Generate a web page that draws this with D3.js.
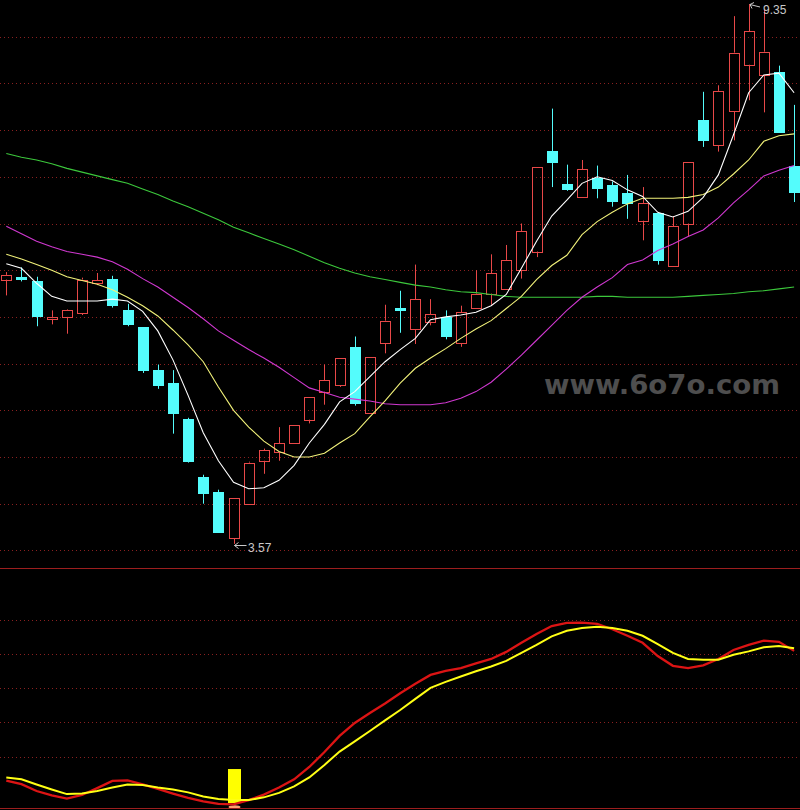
<!DOCTYPE html>
<html><head><meta charset="utf-8">
<script src="https://cdn.jsdelivr.net/npm/d3@7/dist/d3.min.js"></script>
<style>html,body{margin:0;padding:0;background:#000;overflow:hidden}</style>
</head><body><svg id="c" width="800" height="810"></svg>
<script>
// ---- data ----
const days = d3.range(53);
const open  = [6.40,6.43,6.38,5.98,6.00,6.04,6.36,6.41,6.07,5.89, 5.43,5.29,4.91,4.29,4.12,3.63,4.00,4.46,4.55,4.65, 4.90,5.20,5.27,5.68,4.97,5.72,6.09,5.87,5.95,6.00, 5.72,6.09,6.25,6.30,6.50,6.70,7.78,7.42,7.28,7.49, 7.41,7.33,7.03,7.11,6.54,7.00,8.11,7.84,8.20,8.70, 8.59,8.62,7.62];
const high  = [6.48,6.53,6.43,6.07,6.08,6.42,6.47,6.44,6.14,5.89, 5.49,5.43,4.92,4.31,4.15,4.06,4.45,4.59,4.82,4.84, 5.14,5.49,5.56,5.79,5.57,6.13,6.28,6.56,6.19,6.07, 6.12,6.50,6.67,6.77,7.00,7.61,8.23,7.63,7.68,7.62, 7.45,7.52,7.39,7.11,7.08,7.66,8.41,8.48,9.22,9.35, 9.29,8.69,8.27];
const low   = [6.23,6.38,5.90,5.92,5.82,6.02,6.34,6.10,5.90,5.40, 5.23,4.75,4.44,4.00,3.69,3.57,4.00,4.32,4.46,4.65, 4.86,5.06,5.25,5.05,4.97,5.61,5.83,5.71,5.91,5.76, 5.68,6.09,6.13,6.30,6.41,6.64,7.39,7.35,7.28,7.27, 7.18,7.05,6.82,6.56,6.54,6.86,7.82,7.77,7.89,8.32, 8.19,7.97,7.23];
const close = [6.45,6.39,6.00,6.00,6.07,6.40,6.39,6.12,5.91,5.42, 5.26,4.96,4.45,4.10,3.69,4.06,4.44,4.57,4.65,4.84, 5.14,5.32,5.56,5.07,5.57,5.96,6.06,6.19,6.03,5.79, 6.05,6.25,6.47,6.61,6.92,7.61,7.65,7.36,7.58,7.37, 7.23,7.21,7.22,6.60,6.97,7.66,7.88,8.42,8.83,9.06, 8.84,7.97,7.33];
const ma5   = [6.57,6.52,6.36,6.22,6.17,6.17,6.17,6.19,6.17,6.06, 5.85,5.54,5.16,4.76,4.46,4.23,4.16,4.17,4.25,4.41, 4.65,4.85,5.09,5.20,5.36,5.52,5.65,5.77,5.97,6.00, 6.02,6.05,6.12,6.24,6.52,6.81,7.08,7.25,7.43,7.50, 7.46,7.36,7.29,7.12,7.07,7.13,7.28,7.52,7.95,8.40, 8.59,8.61,8.40];
const ma10  = [6.67,6.62,6.56,6.50,6.43,6.39,6.35,6.29,6.21,6.12, 6.01,5.86,5.70,5.52,5.25,5.00,4.82,4.67,4.56,4.50, 4.50,4.54,4.65,4.75,4.93,5.10,5.29,5.45,5.56,5.66, 5.77,5.87,5.96,6.09,6.22,6.40,6.55,6.66,6.88,7.02, 7.12,7.21,7.27,7.27,7.27,7.28,7.31,7.39,7.53,7.68, 7.88,7.94,7.96];
const ma20  = [6.97,6.89,6.81,6.75,6.70,6.67,6.64,6.59,6.51,6.41, 6.32,6.21,6.10,5.98,5.85,5.75,5.65,5.56,5.46,5.35, 5.24,5.19,5.14,5.12,5.10,5.07,5.06,5.06,5.06,5.08, 5.13,5.20,5.30,5.44,5.59,5.75,5.91,6.07,6.21,6.32, 6.42,6.56,6.61,6.71,6.78,6.86,6.93,7.06,7.22,7.36, 7.51,7.57,7.62];
const ma60  = [7.75,7.71,7.68,7.64,7.59,7.55,7.51,7.47,7.43,7.37, 7.31,7.24,7.18,7.11,7.04,6.96,6.90,6.84,6.78,6.72, 6.65,6.58,6.52,6.47,6.43,6.40,6.37,6.34,6.32,6.29, 6.27,6.26,6.24,6.22,6.21,6.21,6.21,6.21,6.21,6.22, 6.22,6.21,6.21,6.21,6.21,6.22,6.23,6.24,6.25,6.27, 6.28,6.30,6.32];
const kLine = [6.1,4.0,0.0,-2.6,-4.4,-2.3,1.7,5.9,6.2,3.8, 1.2,-1.5,-4.0,-6.0,-7.5,-7.8,-5.3,-2.1,2.0,6.8, 14.0,22.7,32.1,39.7,45.5,51.0,57.0,62.5,67.7,70.0, 71.7,74.4,77.0,81.1,86.4,91.6,96.2,98.0,98.2,97.5, 94.3,90.5,86.4,78.7,73.0,71.7,73.3,77.0,82.2,85.2, 87.7,87.0,81.7];
const dLine = [7.9,6.8,3.8,0.9,-1.8,-1.5,0.0,2.0,3.8,3.5, 2.0,0.9,-0.8,-3.2,-4.6,-5.3,-5.3,-3.7,-1.1,2.7, 7.9,15.2,23.0,28.9,35.0,41.2,47.2,53.7,60.1,63.6, 66.8,69.8,72.6,75.9,80.5,85.2,90.2,93.4,95.1,95.8, 95.0,93.4,90.5,85.7,80.5,77.0,76.5,76.5,79.4,81.4, 83.8,84.6,83.2];
const signalIndex = [15];
const signalTop = [12.8];
const signalBottom = [-7.0];
const priceTicks = [9.0,8.5,8.0,7.5,7.0,6.5,6.0,5.5,5.0,4.5,4.0,3.5];
const lowerTicks = [20,40,60,80,100];
const watermark = "www.6o7o.com";

// ---- scales ----
const W = 800;
const x = d3.scaleLinear().domain([0, 52]).range([6.3, 794.1]);
const y = d3.scaleLinear().domain([3.5, 9.0]).range([550.4, 36.7]);
const yl = d3.scaleLinear().domain([0, 100]).range([791, 619.5]);

const svg = d3.select("#c");
svg.append("rect").attr("width", 800).attr("height", 810).attr("fill", "#000");
const defs = svg.append("defs");
defs.append("clipPath").attr("id", "top").append("rect").attr("x", 0).attr("y", 0).attr("width", W).attr("height", 568);
defs.append("clipPath").attr("id", "bot").append("rect").attr("x", 0).attr("y", 569).attr("width", W).attr("height", 239);

const px = v => Math.round(v) + 0.5;

// grid lines
svg.append("g").selectAll("line").data(priceTicks).join("line")
  .attr("x1", 0).attr("x2", W).attr("y1", d => px(y(d))).attr("y2", d => px(y(d)))
  .attr("stroke", "#8a2020").attr("stroke-dasharray", "1,3");
svg.append("g").selectAll("line").data(lowerTicks).join("line")
  .attr("x1", 0).attr("x2", W).attr("y1", d => px(yl(d))).attr("y2", d => px(yl(d)))
  .attr("stroke", "#8a2020").attr("stroke-dasharray", "1,3");

// panel separators
[568, 808].forEach(v => svg.append("line").attr("x1", 0).attr("x2", W).attr("y1", v + 0.5).attr("y2", v + 0.5)
  .attr("stroke", "#9c1e1e").attr("stroke-width", 1));

// watermark
svg.append("text").attr("x", 544).attr("y", 394).attr("textLength", 236).attr("lengthAdjust", "spacingAndGlyphs")
  .attr("font-family", "DejaVu Sans").attr("font-weight", "bold").attr("font-size", 26)
  .attr("fill", "#4e4e4e").text(watermark);

// candles
const gTop = svg.append("g").attr("clip-path", "url(#top)");
const UP = "#e84848", DOWN = "#54fcfc";
days.forEach(i => {
  const o = open[i], c = close[i], h = high[i], l = low[i];
  const cx = Math.round(x(i));
  const up = c >= o;
  const yTop = y(Math.max(o, c)), yBot = y(Math.min(o, c));
  if (up) {
    gTop.append("line").attr("x1", cx + 0.5).attr("x2", cx + 0.5).attr("y1", y(h)).attr("y2", yTop).attr("stroke", UP);
    gTop.append("line").attr("x1", cx + 0.5).attr("x2", cx + 0.5).attr("y1", yBot).attr("y2", y(l)).attr("stroke", UP);
    gTop.append("rect").attr("x", cx - 5 + 0.5).attr("y", Math.round(yTop) + 0.5).attr("width", 10)
      .attr("height", Math.max(1, Math.round(yBot) - Math.round(yTop)))
      .attr("fill", "none").attr("stroke", UP);
  } else {
    gTop.append("line").attr("x1", cx + 0.5).attr("x2", cx + 0.5).attr("y1", y(h)).attr("y2", y(l)).attr("stroke", DOWN);
    gTop.append("rect").attr("x", cx - 5).attr("y", Math.round(yTop)).attr("width", 11)
      .attr("height", Math.max(2, Math.round(yBot) - Math.round(yTop)))
      .attr("fill", DOWN);
  }
});

// moving averages
const lineTop = arr => d3.line().x((d, i) => x(i)).y(d => y(d))(arr);
[[ma60, "#3cc83c"], [ma20, "#d038d0"], [ma10, "#f2f27a"], [ma5, "#ffffff"]].forEach(([arr, col]) => {
  gTop.append("path").attr("d", lineTop(arr)).attr("fill", "none").attr("stroke", col).attr("stroke-width", 1.1);
});

// high / low labels
const labelCol = "#c8c8c8";
const hi = d3.maxIndex(high), lo = d3.minIndex(low);
{
  const hx = Math.round(x(hi)) + 1, hy = y(high[hi]) + 0.5;
  svg.append("path").attr("d", `M${hx},${hy} L${hx + 10},${hy + 2.5} M${hx},${hy} L${hx + 4},${hy - 2} M${hx},${hy} L${hx + 2},${hy + 4}`)
    .attr("stroke", labelCol).attr("fill", "none").attr("stroke-width", 1);
  svg.append("text").attr("x", hx + 13).attr("y", hy + 9).attr("font-family", "Liberation Sans, Arial")
    .attr("font-size", 12).attr("fill", labelCol).text(high[hi].toFixed(2));
  const lx = Math.round(x(lo)) + 0.5, ly = Math.round(y(low[lo])) + 1.5;
  svg.append("path").attr("d", `M${lx},${ly} L${lx + 12},${ly} M${lx},${ly} L${lx + 4},${ly - 3} M${lx},${ly} L${lx + 4},${ly + 3}`)
    .attr("stroke", labelCol).attr("fill", "none").attr("stroke-width", 1);
  svg.append("text").attr("x", lx + 13.5).attr("y", ly + 6).attr("font-family", "Liberation Sans, Arial")
    .attr("font-size", 12).attr("fill", labelCol).text(low[lo].toFixed(2));
}

// lower panel
const gBot = svg.append("g").attr("clip-path", "url(#bot)");
signalIndex.forEach((si, k) => {
  const cx = Math.round(x(si));
  gBot.append("rect").attr("x", cx - 6).attr("y", yl(signalTop[k])).attr("width", 13)
    .attr("height", yl(signalBottom[k]) - yl(signalTop[k])).attr("fill", "#ffff00");
  gBot.append("ellipse").attr("cx", cx + 0.5).attr("cy", 807).attr("rx", 6).attr("ry", 1.8).attr("fill", "#ffa070");
});
const lineBot = arr => d3.line().x((d, i) => x(i)).y(d => yl(d))(arr);
gBot.append("path").attr("d", lineBot(kLine)).attr("fill", "none").attr("stroke", "#dc1414").attr("stroke-width", 2.3);
gBot.append("path").attr("d", lineBot(dLine)).attr("fill", "none").attr("stroke", "#ffff14").attr("stroke-width", 2);
</script>
</body></html>
